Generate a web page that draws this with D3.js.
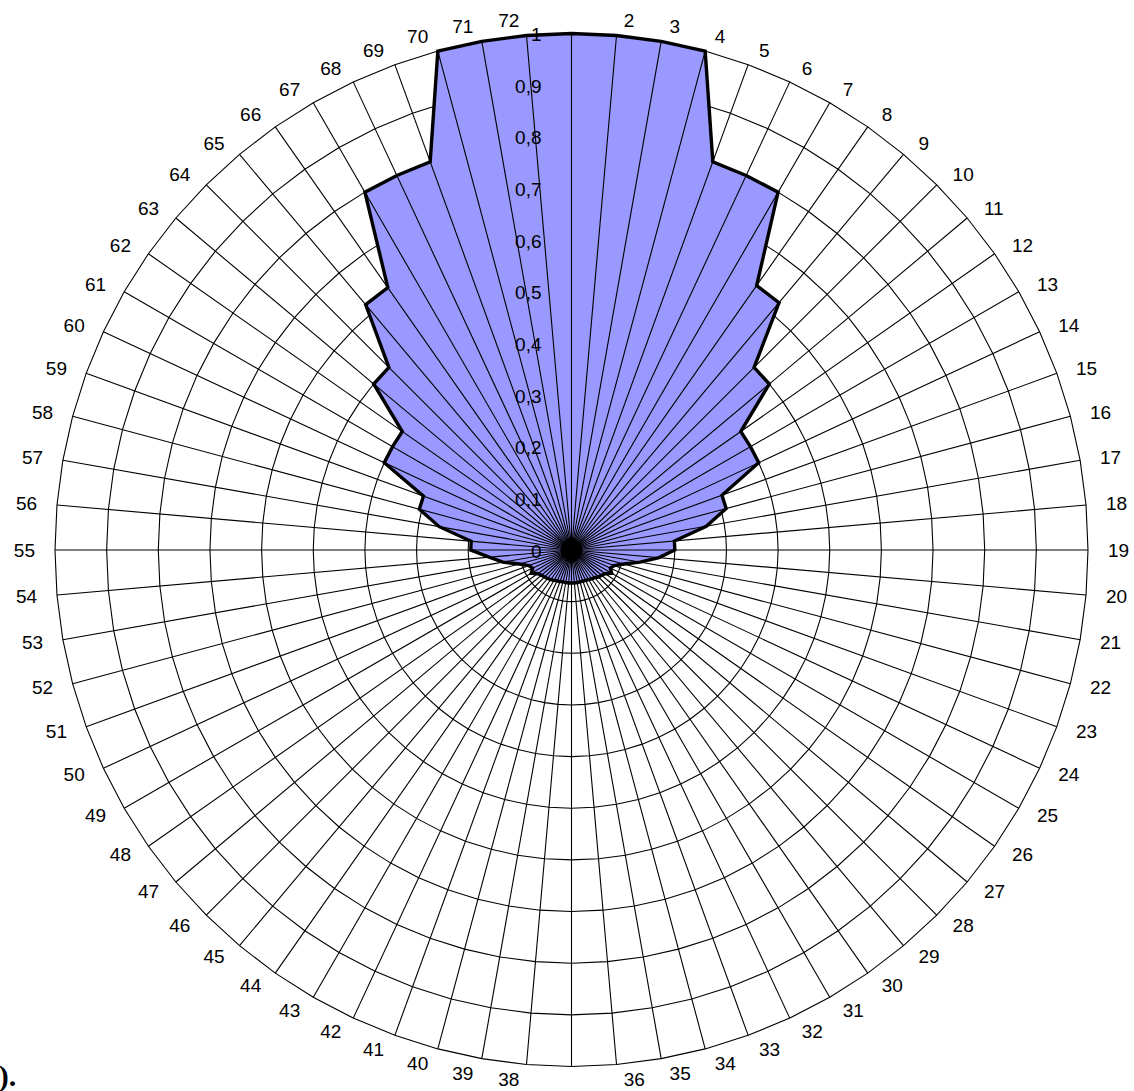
<!DOCTYPE html>
<html>
<head>
<meta charset="utf-8">
<script src="https://cdn.jsdelivr.net/npm/d3@7"></script>
<style>
  html, body { margin: 0; padding: 0; background: #ffffff; }
  svg { display: block; }
</style>
</head>
<body>
<script>
// Directional response: 72 directions, 5 degrees apart, clockwise from the top.
const categories = d3.range(1, 73).map(String);

const values = [
  1.00, 1.00, 1.00, 1.00, 0.80, 0.80, 0.80, 0.625, 0.625, 0.50,
  0.50, 0.40, 0.40, 0.40, 0.31, 0.31, 0.265, 0.20, 0.20, 0.17,
  0.135, 0.105, 0.088, 0.083, 0.09, 0.08, 0.076, 0.074, 0.07, 0.068,
  0.066, 0.065, 0.064, 0.064, 0.064, 0.064, 0.064, 0.064, 0.064, 0.064,
  0.065, 0.066, 0.068, 0.07, 0.072, 0.074, 0.076, 0.08, 0.09, 0.083,
  0.088, 0.105, 0.135, 0.16, 0.195, 0.195, 0.26, 0.305, 0.305, 0.40,
  0.40, 0.40, 0.50, 0.50, 0.62, 0.62, 0.80, 0.80, 0.80, 1.00,
  1.00, 1.00
];

const ringTicks = [0.1, 0.2, 0.3, 0.4, 0.5, 0.6, 0.7, 0.8, 0.9, 1.0];
const scaleTicks = [0, 0.1, 0.2, 0.3, 0.4, 0.5, 0.6, 0.7, 0.8, 0.9, 1.0];
const scaleTickLabels = ["0", "0,1", "0,2", "0,3", "0,4", "0,5", "0,6", "0,7", "0,8", "0,9", "1"];

const width = 1134, height = 1091;
const cx = 571.5, cy = 550, R = 516.5;

const svg = d3.select("body").append("svg")
  .attr("width", width).attr("height", height);

const g = svg.append("g").attr("transform", `translate(${cx},${cy})`);

const r = d3.scaleLinear().domain([0, 1]).range([0, R]);
const angle = d3.scaleLinear().domain([0, categories.length]).range([0, 2 * Math.PI]);

const ring = d3.lineRadial()
  .angle((d, i) => angle(i))
  .radius(d => r(d))
  .curve(d3.curveLinearClosed);

// Polygonal grid rings
g.append("g").selectAll("path")
  .data(ringTicks)
  .join("path")
  .attr("d", t => ring(categories.map(() => t)))
  .attr("fill", "none")
  .attr("stroke", "#000")
  .attr("stroke-width", 1.1);

// Filled area
g.append("path")
  .datum(values)
  .attr("d", ring)
  .attr("fill", "#9999ff")
  .attr("stroke", "none");

// Spokes
g.append("g").selectAll("line")
  .data(categories)
  .join("line")
  .attr("x1", 0).attr("y1", 0)
  .attr("x2", (d, i) => r(1) * Math.sin(angle(i)))
  .attr("y2", (d, i) => -r(1) * Math.cos(angle(i)))
  .attr("stroke", "#000")
  .attr("stroke-width", 1.1);

// Where the 72 spokes meet they merge into a solid hub
g.append("circle")
  .attr("r", 11)
  .attr("fill", "#000");

// Series outline
g.append("path")
  .datum(values)
  .attr("d", ring)
  .attr("fill", "none")
  .attr("stroke", "#000")
  .attr("stroke-width", 3.4)
  .attr("stroke-linejoin", "miter");

// Value scale along the vertical axis
g.append("g").selectAll("text")
  .data(scaleTicks)
  .join("text")
  .attr("x", -30)
  .attr("y", t => -r(t) + 1)
  .attr("text-anchor", "end")
  .attr("dominant-baseline", "central")
  .attr("font-family", "'Liberation Sans', Arial, sans-serif")
  .attr("font-size", 19)
  .attr("fill", "#000")
  .text((t, i) => scaleTickLabels[i]);

// Category labels; the two on the vertical axis would collide with the scale and are left out
const gx = 14, px = 6, gy = 8, halfH = 6.7;
g.append("g").selectAll("text")
  .data(categories.map((c, i) => ({ c, a: angle(i) })).filter(d => Math.abs(Math.sin(d.a)) > 0.01))
  .join("text")
  .each(function(d) {
    const s = Math.sin(d.a), co = Math.cos(d.a);
    const vx = r(1) * s, vy = -r(1) * co;
    const x = vx + gx * s + (s > 0 ? px : -px);
    const y = vy - gy * co - halfH * co;
    d3.select(this)
      .attr("x", x).attr("y", y)
      .attr("text-anchor", s > 0 ? "start" : "end");
  })
  .attr("dominant-baseline", "central")
  .attr("font-family", "'Liberation Sans', Arial, sans-serif")
  .attr("font-size", 19)
  .attr("fill", "#000")
  .text(d => d.c);

// Panel mark
svg.append("text")
  .attr("x", -18).attr("y", 1086)
  .attr("font-family", "'Liberation Serif', 'Times New Roman', serif")
  .attr("font-weight", "bold")
  .attr("font-size", 30)
  .attr("fill", "#000")
  .text("b).");
</script>
</body>
</html>
